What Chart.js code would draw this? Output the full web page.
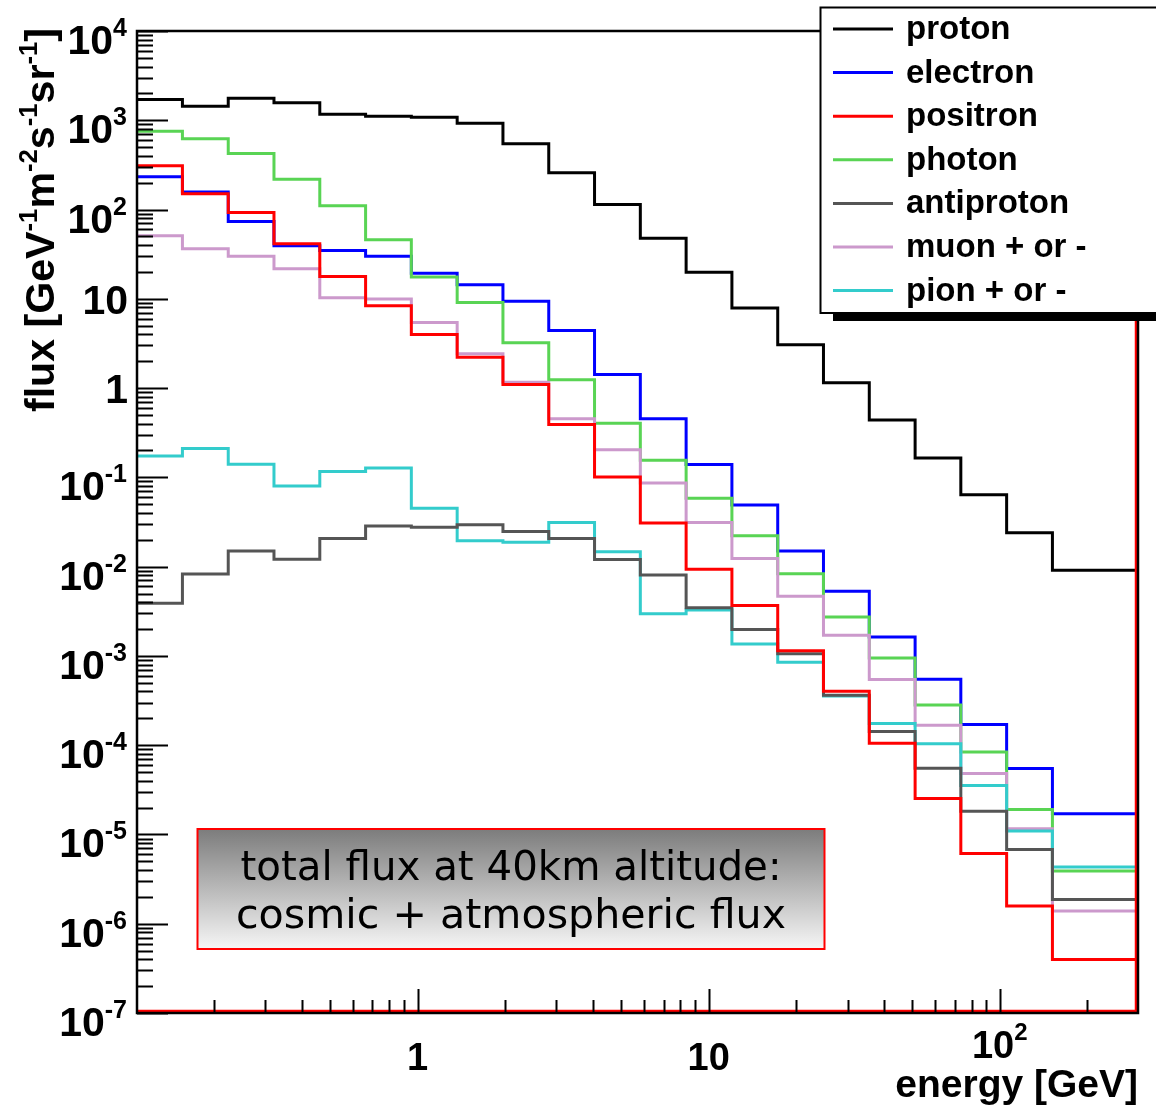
<!DOCTYPE html>
<html>
<head>
<meta charset="utf-8">
<script src="https://cdn.jsdelivr.net/npm/chart.js@4.4.1/dist/chart.umd.min.js"></script>
<style>
  html, body { margin: 0; padding: 0; background: #fff; }
  #wrap { width: 1156px; height: 1108px; }
</style>
</head>
<body>
<div id="wrap"><canvas id="flux" width="1156" height="1108"></canvas></div>
<script>
// bin edges of the energy histogram (GeV)
const binEdges = [0.1087, 0.1557, 0.2237, 0.3212, 0.4615, 0.663, 0.952, 1.368, 1.965, 2.823,
    4.055, 5.825, 8.368, 12.02, 17.27, 24.8, 35.63, 51.2, 73.5, 105.6, 151.7, 298.5];

// flux per bin [GeV^-1 m^-2 s^-1 sr^-1]
const protonFlux = [1710, 1440, 1770, 1570, 1170, 1110, 1080, 928, 546, 258, 114, 47.8, 19.9,
    7.87, 3.06, 1.15, 0.438, 0.165, 0.064, 0.024, 0.0091];
const electronFlux = [233, 157, 73.6, 39.4, 34.8, 29.9, 19.4, 14.4, 9.42, 4.42, 1.42, 0.454,
    0.139, 0.049, 0.015, 0.00529, 0.00163, 5.47e-4, 1.70e-4, 5.47e-5, 1.71e-5];
const positronFlux = [309, 150, 92.7, 41.4, 17.8, 8.37, 3.99, 2.22, 1.10, 0.392, 0.101, 0.0308,
    0.00933, 0.00366, 0.00114, 4.01e-4, 1.05e-4, 2.52e-5, 6.11e-6, 1.58e-6, 3.97e-7];
const photonFlux = [755, 621, 425, 219, 110, 45.9, 17.5, 9.12, 3.22, 1.24, 0.403, 0.155, 0.0582,
    0.0222, 0.00835, 0.00272, 9.48e-4, 2.82e-4, 8.39e-5, 1.90e-5, 3.90e-6];
const antiprotonFlux = [0.00388, 0.00826, 0.015, 0.0121, 0.0206, 0.0285, 0.0277, 0.0295, 0.0248,
    0.0206, 0.012, 0.00804, 0.00347, 0.00197, 0.00106, 3.62e-4, 1.42e-4, 5.51e-5, 1.82e-5,
    6.78e-6, 1.87e-6];
const muonFlux = [50.9, 36.4, 29.9, 21.7, 10.3, 9.97, 5.44, 2.43, 1.16, 0.454, 0.204, 0.0863,
    0.0313, 0.0123, 0.00465, 0.0017, 5.43e-4, 1.67e-4, 4.81e-5, 1.16e-5, 1.39e-6];
const pionFlux = [0.173, 0.211, 0.140, 0.080, 0.116, 0.127, 0.045, 0.0195, 0.0187, 0.0313,
    0.0147, 0.00296, 0.00327, 0.00136, 8.51e-4, 3.55e-4, 1.75e-4, 1.04e-4, 3.53e-5, 1.09e-5,
    4.33e-6];

const seriesNames = ['proton', 'electron', 'positron', 'photon', 'antiproton', 'muon + or -', 'pion + or -'];
const seriesValues = [protonFlux, electronFlux, positronFlux, photonFlux, antiprotonFlux, muonFlux, pionFlux];
const seriesColors = ['#000000', '#0000ff', '#ff0000', '#59d454', '#555555', '#cc99cc', '#33cccc'];
const seriesOrder = [7, 6, 1, 5, 2, 4, 3]; // lower = drawn on top

const xTickValues = [1, 10, 100];
const xTickLabels = ['1', '10', '10^2'];
const yTickValues = [1e4, 1e3, 1e2, 10, 1, 1e-1, 1e-2, 1e-3, 1e-4, 1e-5, 1e-6, 1e-7];
const yTickLabels = ['10^4', '10^3', '10^2', '10', '1', '10^-1', '10^-2', '10^-3', '10^-4', '10^-5', '10^-6', '10^-7'];

const xTitle = 'energy [GeV]';
const yTitle = [['flux [GeV', 0], ['-1', 1], ['m', 0], ['-2', 1], ['s', 0], ['-1', 1], ['sr', 0], ['-1', 1], [']', 0]];
const boxLines = ['total flux at 40km altitude:', 'cosmic + atmospheric flux'];

const FONT = "'Liberation Sans', Arial, Helvetica, sans-serif";

// histogram outline: one point per lower edge, plus the last upper edge
function histPoints(values) {
    const pts = values.map((v, i) => ({ x: binEdges[i], y: v }));
    pts.push({ x: binEdges[binEdges.length - 1], y: values[values.length - 1] });
    return pts;
}

// draws "10^n" style text
function drawPower(ctx, label, xPos, align, baseY, supY, baseSize, supSize) {
    const parts = label.split('^');
    ctx.font = 'bold ' + baseSize + 'px ' + FONT;
    const wBase = ctx.measureText(parts[0]).width;
    let wSup = 0;
    if (parts[1]) {
        ctx.font = 'bold ' + supSize + 'px ' + FONT;
        wSup = ctx.measureText(parts[1]).width;
    }
    const total = wBase + wSup;
    let x0 = xPos;
    if (align === 'right') x0 = xPos - total;
    if (align === 'center') x0 = xPos - total / 2;
    ctx.textAlign = 'left';
    ctx.textBaseline = 'alphabetic';
    ctx.font = 'bold ' + baseSize + 'px ' + FONT;
    ctx.fillText(parts[0], x0, baseY);
    if (parts[1]) {
        ctx.font = 'bold ' + supSize + 'px ' + FONT;
        ctx.fillText(parts[1], x0 + wBase, supY);
    }
}

const rootStyle = {
    id: 'rootStyle',
    beforeDraw(chart) {
        const ctx = chart.ctx;
        ctx.save();
        ctx.fillStyle = '#fff';
        ctx.fillRect(0, 0, chart.width, chart.height);
        ctx.restore();
    },
    afterDatasetsDraw(chart) {
        const { ctx, chartArea: a, scales } = chart;
        const xs = scales.x, ys = scales.y;
        ctx.save();
        // positron outline running along the frame
        ctx.strokeStyle = seriesColors[2];
        ctx.lineWidth = 2.5;
        ctx.beginPath();
        ctx.moveTo(a.left, a.bottom - 2);
        ctx.lineTo(a.right - 2, a.bottom - 2);
        ctx.lineTo(a.right - 2, a.top);
        ctx.stroke();

        // frame
        ctx.strokeStyle = '#000';
        ctx.lineWidth = 2.5;
        ctx.strokeRect(a.left, a.top, a.right - a.left, a.bottom - a.top);

        // y ticks
        ctx.lineWidth = 2;
        ctx.beginPath();
        for (let e = -7; e <= 4; e++) {
            for (let k = 1; k <= 9; k++) {
                const v = k * Math.pow(10, e);
                if (v > ys.max * 1.0001 || v < ys.min * 0.9999) continue;
                const py = Math.round(ys.getPixelForValue(v)) + 0.5;
                const len = k === 1 ? 31 : 16;
                ctx.moveTo(a.left, py);
                ctx.lineTo(a.left + len, py);
            }
        }
        // x ticks
        for (let e = -1; e <= 2; e++) {
            for (let k = 1; k <= 9; k++) {
                const v = k * Math.pow(10, e);
                if (v <= xs.min || v >= xs.max) continue;
                const px = Math.round(xs.getPixelForValue(v)) + 0.5;
                const len = k === 1 ? 24 : 13;
                ctx.moveTo(px, a.bottom);
                ctx.lineTo(px, a.bottom - len);
            }
        }
        ctx.stroke();
        ctx.restore();
    },
    afterDraw(chart) {
        const { ctx, chartArea: a, scales } = chart;
        const xs = scales.x, ys = scales.y;
        ctx.save();
        ctx.fillStyle = '#000';

        // y tick labels
        yTickValues.forEach((v, i) => {
            const py = ys.getPixelForValue(v);
            const lab = yTickLabels[i];
            if (lab.indexOf('^') >= 0) {
                drawPower(ctx, lab, 127, 'right', py + 23, py + 5, 41, 25);
            } else {
                drawPower(ctx, lab, 128, 'right', py + 15, py, 41, 25);
            }
        });

        // x tick labels
        xTickValues.forEach((v, i) => {
            const px = xs.getPixelForValue(v);
            const lab = xTickLabels[i];
            if (lab.indexOf('^') >= 0) {
                drawPower(ctx, lab, px, 'center', 1058, 1040, 38, 24);
            } else {
                drawPower(ctx, lab, px, 'center', 1070, 1070, 38, 24);
            }
        });

        // x title
        ctx.font = 'bold 39px ' + FONT;
        ctx.textAlign = 'right';
        ctx.textBaseline = 'alphabetic';
        ctx.fillText(xTitle, a.right, 1097);

        // y title, rotated, with superscripts
        const baseF = 'bold 40px ' + FONT, supF = 'bold 25px ' + FONT;
        let total = 0;
        yTitle.forEach(s => {
            ctx.font = s[1] ? supF : baseF;
            total += ctx.measureText(s[0]).width;
        });
        const targetLen = 384;
        ctx.save();
        ctx.translate(54, 412);
        ctx.rotate(-Math.PI / 2);
        ctx.scale(targetLen / total, 1);
        ctx.textAlign = 'left';
        let cx = 0;
        yTitle.forEach(s => {
            ctx.font = s[1] ? supF : baseF;
            ctx.fillText(s[0], cx, s[1] ? -17 : 0);
            cx += ctx.measureText(s[0]).width;
        });
        ctx.restore();

        // legend box
        const lx = 820.5, ly = 7.5, lr = 1160, lb = 313;
        ctx.fillStyle = '#000';
        ctx.fillRect(833, lb, 1156 - 833, 8);
        ctx.fillStyle = '#fff';
        ctx.fillRect(lx, ly, lr - lx, lb - ly);
        ctx.strokeStyle = '#000';
        ctx.lineWidth = 2;
        ctx.strokeRect(lx, ly, lr - lx, lb - ly);
        seriesNames.forEach((name, i) => {
            const yy = 29 + i * 43.6;
            ctx.strokeStyle = seriesColors[i];
            ctx.lineWidth = 3;
            ctx.beginPath();
            ctx.moveTo(833, yy);
            ctx.lineTo(893, yy);
            ctx.stroke();
            ctx.fillStyle = '#000';
            ctx.font = 'bold 33px ' + FONT;
            ctx.textAlign = 'left';
            ctx.textBaseline = 'middle';
            ctx.fillText(name, 906, yy + 1);
        });

        // annotation box
        const bx = 197.5, by = 829, bw = 627, bh = 120;
        const grad = ctx.createLinearGradient(0, by, 0, by + bh);
        grad.addColorStop(0, '#7c7c7c');
        grad.addColorStop(1, '#f6f6f6');
        ctx.fillStyle = grad;
        ctx.fillRect(bx, by, bw, bh);
        ctx.strokeStyle = '#ff0000';
        ctx.lineWidth = 2;
        ctx.strokeRect(bx, by, bw, bh);
        ctx.fillStyle = '#000';
        ctx.textBaseline = 'alphabetic';
        ctx.textAlign = 'center';
        const targets = [541, 550], baselines = [880, 928];
        boxLines.forEach((t, i) => {
            ctx.font = '40px "DejaVu Sans", sans-serif';
            const w = ctx.measureText(t).width;
            ctx.save();
            ctx.translate(bx + bw / 2, baselines[i]);
            ctx.scale(targets[i] / w, 1);
            ctx.fillText(t, 0, 0);
            ctx.restore();
        });
        ctx.restore();
    }
};

const datasets = seriesNames.map((name, i) => ({
    label: name,
    data: histPoints(seriesValues[i]),
    borderColor: seriesColors[i],
    backgroundColor: seriesColors[i],
    borderWidth: 3,
    stepped: 'before',
    pointRadius: 0,
    fill: false,
    borderJoinStyle: 'miter',
    borderCapStyle: 'butt',
    order: seriesOrder[i]
}));

new Chart(document.getElementById('flux'), {
    type: 'line',
    data: { datasets },
    options: {
        responsive: false,
        animation: false,
        devicePixelRatio: 1,
        events: [],
        layout: { padding: { top: 31, right: 18, left: 0, bottom: 0 } },
        plugins: {
            legend: { display: false },
            tooltip: { enabled: false }
        },
        scales: {
            x: {
                type: 'logarithmic',
                min: binEdges[0],
                max: binEdges[binEdges.length - 1],
                grid: { display: false },
                border: { display: false },
                ticks: { display: false },
                afterFit(scale) { scale.height = 95; }
            },
            y: {
                type: 'logarithmic',
                min: 1e-7,
                max: 1e4,
                grid: { display: false },
                border: { display: false },
                ticks: { display: false },
                afterFit(scale) { scale.width = 137; }
            }
        }
    },
    plugins: [rootStyle]
});
</script>
</body>
</html>
